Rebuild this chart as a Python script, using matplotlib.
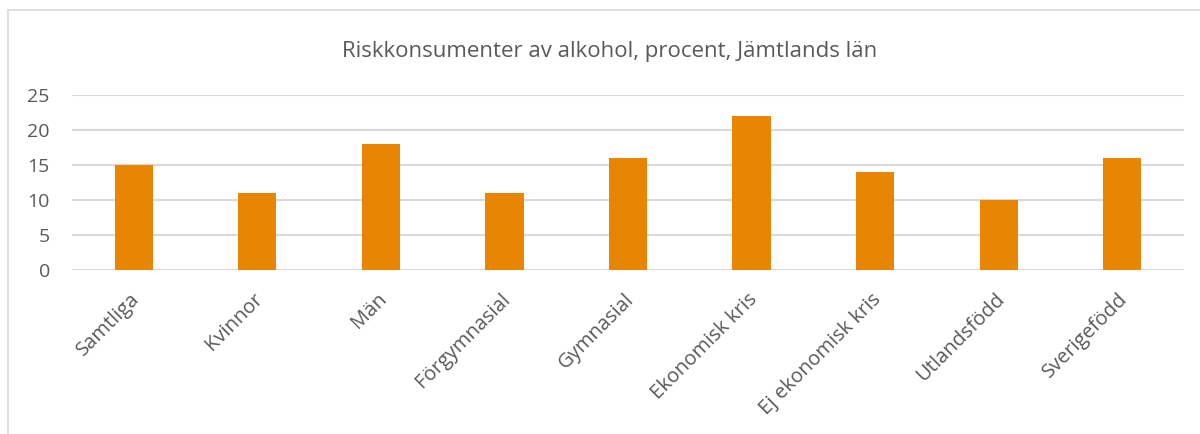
import matplotlib

matplotlib.use("Agg")
import matplotlib.pyplot as plt
import matplotlib.transforms as mtransforms
from matplotlib.patches import Rectangle

kategorier = ["Samtliga", "Kvinnor", "Män", "Förgymnasial", "Gymnasial",
              "Ekonomisk kris", "Ej ekonomisk kris", "Utlandsfödd", "Sverigefödd"]
andel = [15, 11, 18, 11, 16, 22, 14, 10, 16]
yticks = [0, 5, 10, 15, 20, 25]

plt.rcParams["font.family"] = ["Open Sans", "DejaVu Sans"]
textfarg = "#595959"

fig = plt.figure(figsize=(12, 4.34), dpi=100)
# diagramramen (ljusgrå kant)
fig.patches.append(Rectangle((8 / 1200, -0.05), 1.2, 1 - 10 / 434 + 0.05,
                             transform=fig.transFigure, fill=False,
                             edgecolor="#d9d9d9", linewidth=1.2))

ax = fig.add_axes([72 / 1200, 1 - 270 / 434, (1184 - 72) / 1200, (270 - 95) / 434])
x = range(len(kategorier))
ax.bar(x, andel, width=0.31, color="#E88503", zorder=3)

ax.set_xlim(-0.5, len(kategorier) - 0.5)
ax.set_ylim(0, 25)
ax.set_yticks(yticks)
ax.yaxis.grid(True, color="#d9d9d9", linewidth=1.5, zorder=0)
ax.set_xticks(list(x))
ax.set_xticklabels(kategorier, rotation=45, ha="right", va="center",
                   rotation_mode="anchor", fontsize=14.5)
ax.tick_params(axis="both", length=0, labelcolor=textfarg)
ax.tick_params(axis="y", labelsize=14, pad=16)
ax.tick_params(axis="x", pad=19)
# etiketterna förskjuts lite åt höger
skift = mtransforms.ScaledTranslation(2 / 72, 0, fig.dpi_scale_trans)
for lbl in ax.get_xticklabels():
    lbl.set_transform(lbl.get_transform() + skift)
for s in ax.spines.values():
    s.set_visible(False)

fig.text(610 / 1200, 1 - 57 / 434, "Riskkonsumenter av alkohol, procent, Jämtlands län",
         ha="center", va="baseline", fontsize=16, color=textfarg)

fig.savefig("out.png", dpi=100)
